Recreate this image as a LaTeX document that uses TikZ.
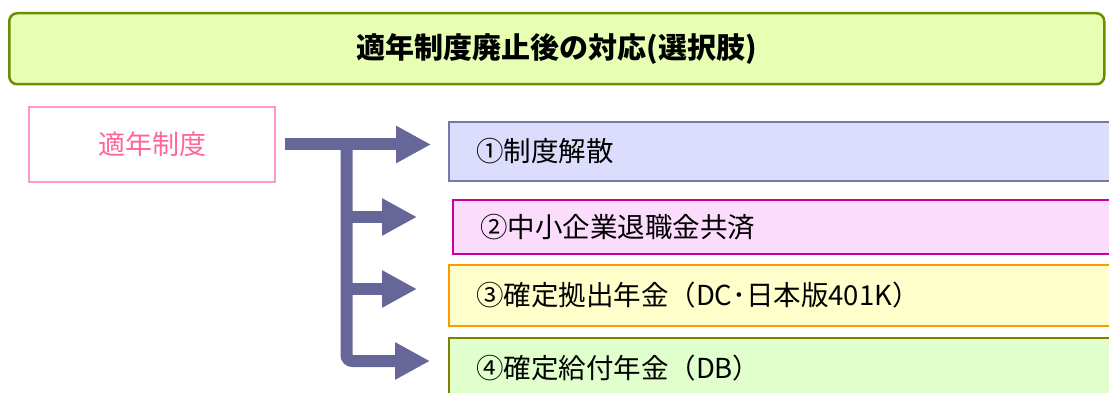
\documentclass[tikz,border=0pt]{standalone}
\usepackage{fontspec}
\newfontfamily\jp{Noto Sans CJK JP}
\usetikzlibrary{arrows.meta}
\definecolor{titlefill}{HTML}{E6FFB3}
\definecolor{titledraw}{HTML}{6B8E00}
\definecolor{arrowcol}{HTML}{666699}
\definecolor{srcdraw}{HTML}{FF99CC}
\definecolor{srctext}{HTML}{FF6699}
\definecolor{fillA}{HTML}{DCDCFC}
\definecolor{drawA}{HTML}{7777AA}
\definecolor{fillB}{HTML}{FCDCFC}
\definecolor{drawB}{HTML}{CC0099}
\definecolor{fillC}{HTML}{FFFFCC}
\definecolor{drawC}{HTML}{FF9900}
\definecolor{fillD}{HTML}{E0FFCC}
\definecolor{drawD}{HTML}{808000}
\begin{document}
\begin{tikzpicture}[x=1pt,y=-1pt,
  every node/.style={font=\jp\fontsize{27.5}{32}\selectfont, inner sep=0pt},
  optbox/.style={draw, line width=2pt, anchor=north west, text width=650pt, align=left, inner xsep=27pt, minimum height=#1},
  arr/.style={arrowcol, line width=12pt, -{Triangle[length=35pt,width=35pt]}},
  bar/.style={arrowcol, line width=11pt}
]
\useasboundingbox (0,0) rectangle (1109,393);
\clip (0,0) rectangle (1109,393);
\node[draw=titledraw, fill=titlefill, line width=2.5pt, rounded corners=8pt, minimum width=1095pt, minimum height=71pt, anchor=north west, font=\jp\bfseries\fontsize{29}{34}\selectfont] (title) at (8,12) {適年制度廃止後の対応(選択肢)};
\node[draw=srcdraw, line width=2pt, text=srctext, minimum width=246pt, minimum height=75pt, anchor=north west, font=\jp\fontsize{27}{32}\selectfont] (src) at (28,106) {適年制度};
\node[optbox=59pt, draw=drawA, fill=fillA] (o1) at (448,121) {①制度解散};
\node[optbox=54pt, draw=drawB, fill=fillB] (o2) at (452,199) {②中小企業退職金共済};
\node[optbox=61pt, draw=drawC, fill=fillC] (o3) at (448,264) {③確定拠出年金（DC･日本版401K）};
\node[optbox=60pt, draw=drawD, fill=fillD] (o4) at (448,337) {④確定給付年金（DB）};
\coordinate (j) at (346.5,143);
\coordinate (b2) at (346.5,217);
\coordinate (b3) at (346.5,289);
\coordinate (b4) at (346.5,361);
\coordinate (t2) at (417,217);
\coordinate (t3) at (417,289);
\coordinate (t4) at (430,361);
\draw[bar] (j) -- (b2);
\draw[arr, shorten <=9pt, shorten >=17pt] (src.east) -- (src.east -| o1.west);
\draw[arr] (b2) -- (t2);
\draw[arr] (b3) -- (t3);
\draw[arr, rounded corners=6pt] (j) -- (b4) -- (t4);
\end{tikzpicture}
\end{document}
